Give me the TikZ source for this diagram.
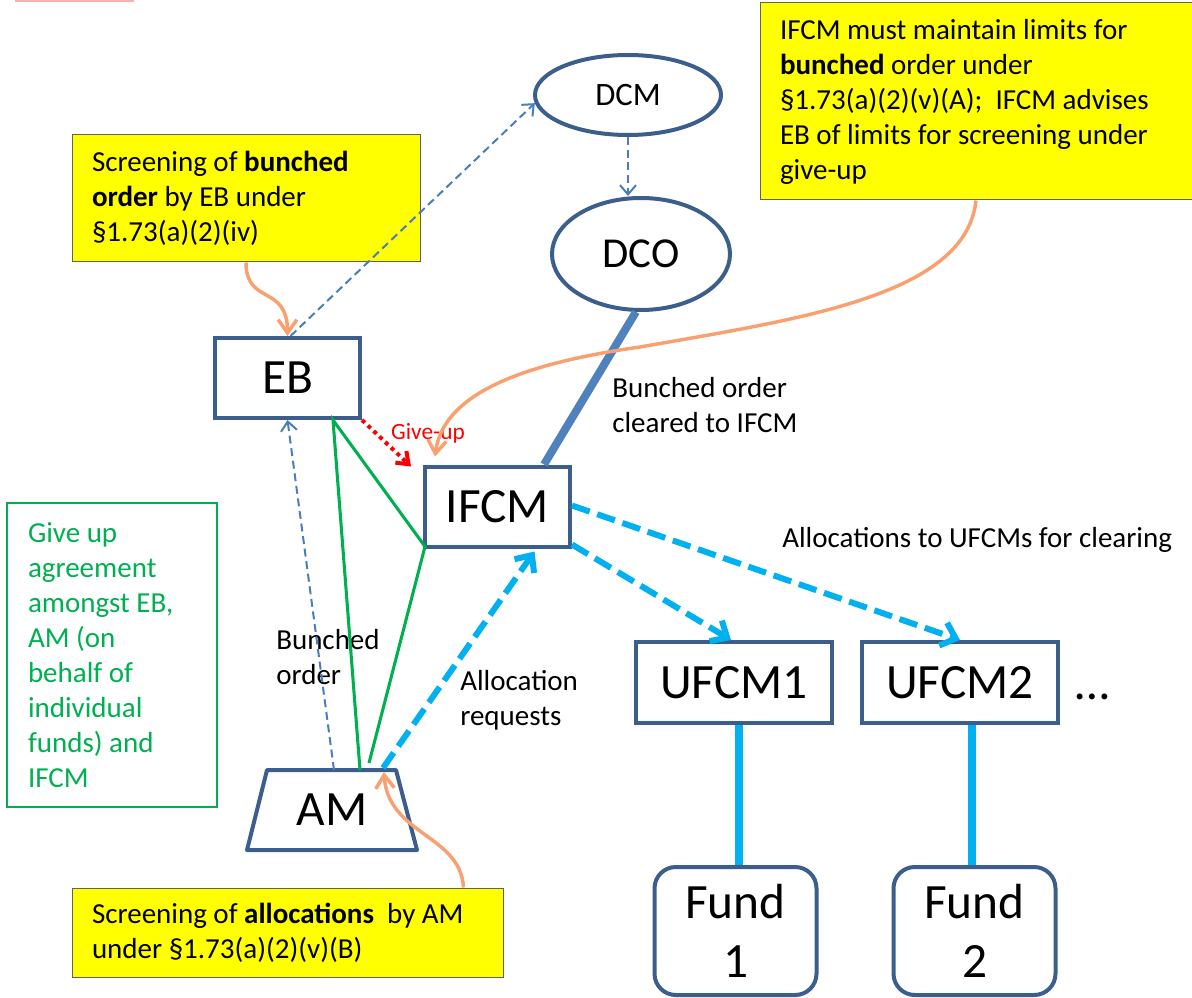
\documentclass[tikz,border=0pt]{standalone}
\usepackage{fontspec}
\setmainfont{Carlito}
\usetikzlibrary{arrows.meta,shapes.geometric,calc}
\definecolor{nodeblue}{HTML}{3B5E8C}
\definecolor{lineblue}{HTML}{4A7EBB}
\definecolor{thickblue}{HTML}{4F81BD}
\definecolor{cyanx}{HTML}{00B0F0}
\definecolor{greenx}{HTML}{00B050}
\definecolor{orangex}{HTML}{F9A070}
\definecolor{yellowx}{HTML}{FFFF00}
\definecolor{notegray}{HTML}{606060}
\definecolor{pinkx}{HTML}{F4B4B4}
\begin{document}
\begin{tikzpicture}[x=0.75pt,y=-0.75pt,
  bignode/.style={draw=nodeblue,line width=3pt,fill=white,inner sep=0pt,font=\fontsize{37}{44}\selectfont},
  rectnode/.style={bignode,minimum width=108.75pt,minimum height=60pt},
  ufcmnode/.style={bignode,minimum width=147pt,minimum height=60.75pt},
  fundnode/.style={bignode,rounded corners=16pt,minimum width=121.5pt,minimum height=96pt,align=center},
  note/.style={draw=notegray,line width=0.75pt,fill=yellowx,inner xsep=15pt,inner ysep=0pt,align=flush left,font=\fontsize{21.75}{26.25}\selectfont},
  greennote/.style={draw=greenx,line width=1.8pt,text=greenx,inner xsep=15.75pt,inner ysep=0pt,align=flush left,font=\fontsize{21.75}{26.25}\selectfont},
  lbl/.style={inner sep=0pt,align=left,font=\fontsize{21.75}{26.25}\selectfont},
  thindash/.style={draw=lineblue,line width=1.5pt,dash pattern=on 6pt off 3.5pt,-{Straight Barb[length=7pt,width=12pt]}},
  cyandash/.style={draw=cyanx,line width=4.5pt,dash pattern=on 14pt off 6pt,-{Straight Barb[length=10pt,width=18pt]}},
  thickline/.style={draw=thickblue,line width=6pt},
  solidcyan/.style={draw=cyanx,line width=6pt},
  greenline/.style={draw=greenx,line width=2.3pt},
  orangearrow/.style={draw=orangex,line width=2.6pt,-{Straight Barb[length=10pt,width=14pt]}},
  reddot/.style={draw=red,line width=3pt,dash pattern=on 3pt off 3pt,-{Straight Barb[length=8pt,width=12pt]}}
]
\useasboundingbox (0,0) rectangle (1192,998);
\draw[pinkx,line width=1.5pt] (15,1) -- (134,1);

% notes
\node[note,text width=231pt,minimum height=95.25pt] (screenEB) at (246,198.5)
  {Screening of \textbf{bunched}\\\textbf{order} by EB under\\§1.73(a)(2)(iv)};
\node[note,text width=294pt,minimum height=147.75pt] (limits) at (976,101.5)
  {IFCM must maintain limits for\\\textbf{bunched} order under\\§1.73(a)(2)(v)(A);\ \ IFCM advises\\EB of limits for screening under\\give-up};
\node[note,text width=293.25pt,minimum height=66.75pt] (screenAM) at (287.5,932.5)
  {Screening of \textbf{allocations}\ \ by AM\\under §1.73(a)(2)(v)(B)};
\node[greennote,text width=126pt,minimum height=228pt] (agreement) at (112,655)
  {Give up\\agreement\\amongst EB,\\AM (on\\behalf of\\individual\\funds) and\\IFCM};

% entities
\node[bignode,ellipse,minimum width=139.5pt,minimum height=60pt,font=\fontsize{24.5}{29}\selectfont] (DCM) at (628,95) {DCM};
\node[bignode,ellipse,minimum width=133.5pt,minimum height=84pt,font=\fontsize{32}{38}\selectfont] (DCO) at (641,254) {DCO};
\node[rectnode] (EB) at (287.5,378) {EB};
\node[rectnode] (IFCM) at (497.5,506.5) {IFCM};
\coordinate (AMc) at (332,810);
\draw[draw=nodeblue,line width=3pt,fill=white,line join=round]
  ($(AMc)+(-65,-40)$) -- ($(AMc)+(64,-40)$) -- ($(AMc)+(85,40)$) -- ($(AMc)+(-85,40)$) -- cycle;
\node[inner sep=0pt,font=\fontsize{37}{44}\selectfont] (AM) at (AMc) {AM};
\coordinate (AMtop) at ($(AMc)+(0,-40)$);
\node[ufcmnode] (UFCM1) at (734,682.5) {UFCM1};
\node[ufcmnode] (UFCM2) at (960,682.5) {UFCM2};
\node[fundnode] (Fund1) at (735.5,931) {Fund\\1};
\node[fundnode] (Fund2) at (974.5,931) {Fund\\2};

% labels
\node[lbl,anchor=west] (lblcleared) at (612,405.5) {Bunched order\\cleared to IFCM};
\node[lbl,anchor=west] (lblbunched) at (276,657.5) {Bunched\\order};
\node[lbl,anchor=west] (lblalloc) at (460,700.5) {Allocation\\requests};
\node[lbl,anchor=west] (lblufcms) at (782,540) {Allocations to UFCMs for clearing};
\node[inner sep=0pt,anchor=base west,font=\fontsize{37}{44}\selectfont] (dots) at (1075,699) {…};

% connectors
\draw[thindash] ($(EB.north)+(3,0)$) -- (DCM.185);
\draw[thindash] (DCM.south) -- (DCM.south |- DCO.north);
\draw[thickline] (DCO.265) -- ($(IFCM.north east)+(-28,0)$);
\draw[thindash] ($(AMtop)+(2,0)$) -- (EB.south);
\draw[greenline] ($(AMtop)+(28,0)$) -- ($(EB.south)+(45.5,0)$) -- ($(IFCM.south west)+(2,-2)$) -- ($(AMtop)+(37,-7)$);
\draw[cyandash] ($(AMtop)+(51,-2)$) -- ($(IFCM.south)+(37,3)$);
\draw[cyandash] ($(IFCM.south east)+(0,-4)$) -- ($(UFCM1.north)+(-3,0)$);
\draw[cyandash] ($(IFCM.east)+(0,-1)$) -- (UFCM2.north);
\coordinate (f1top) at ($(Fund1.north)+(3,0)$);
\coordinate (f2top) at ($(Fund2.north)+(-3,0)$);
\draw[solidcyan] (f1top) -- (f1top |- UFCM1.south);
\draw[solidcyan] (f2top) -- (f2top |- UFCM2.south);
\draw[reddot] (EB.south east) -- ($(IFCM.north west)+(-12,2)$);
\node[inner sep=0pt,text=red,font=\fontsize{17.5}{21}\selectfont] (giveup) at (428,433) {Give-up};

% orange callouts
\draw[orangearrow] (screenEB.south) .. controls +(0,43) and +(0,-52) .. (EB.north);
\draw[orangearrow] (limits.south) .. controls +(-10,95) and +(160,-28) .. (640,347) .. controls +(-120,17) and +(8,-62) .. ($(IFCM.north west)+(12,-8)$);
\draw[orangearrow] ($(screenAM.north east)+(-40,0)$) .. controls +(-3,-53) and +(4,63) .. ($(AMtop)+(52,2)$);
\end{tikzpicture}
\end{document}
